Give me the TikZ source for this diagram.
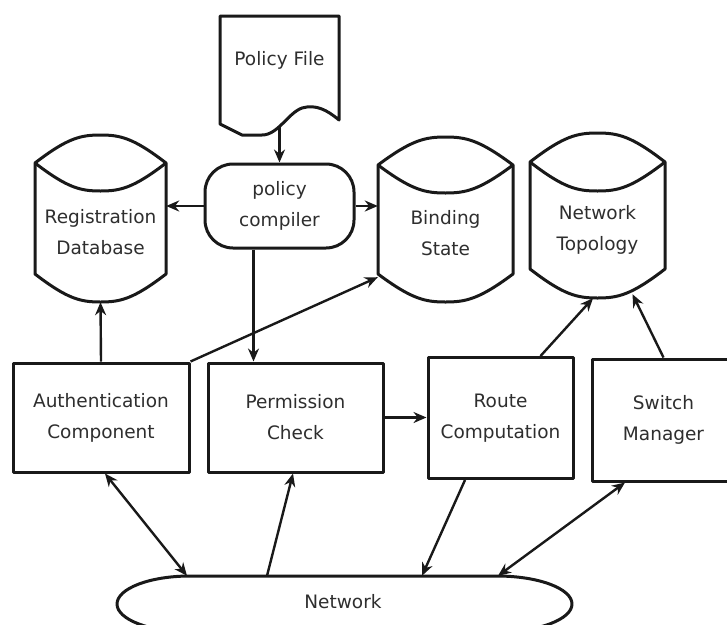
\documentclass[tikz,border=0pt]{standalone}
\usepackage{fontspec}
\setmainfont{DejaVu Sans}
\usetikzlibrary{arrows.meta}

% Database drum: left, top, width, height, cap depth
\newcommand\dbdrum[5]{%
  \begin{scope}[shift={(#1,#2)}]
    \pgfmathsetmacro\dbw{#3}\pgfmathsetmacro\dbh{#4}\pgfmathsetmacro\dbd{#5}
    \draw[outline] (0,\dbd)
      .. controls (0.25*\dbw,0.1*\dbd) and (0.35*\dbw,0) .. (0.5*\dbw,0)
      .. controls (0.65*\dbw,0) and (0.75*\dbw,0.1*\dbd) .. (\dbw,\dbd)
      -- (\dbw,\dbh-\dbd)
      .. controls (0.75*\dbw,\dbh-0.1*\dbd) and (0.65*\dbw,\dbh) .. (0.5*\dbw,\dbh)
      .. controls (0.35*\dbw,\dbh) and (0.25*\dbw,\dbh-0.1*\dbd) .. (0,\dbh-\dbd)
      -- cycle;
    \draw[outline] (0,\dbd)
      .. controls (0.25*\dbw,1.9*\dbd) and (0.35*\dbw,2*\dbd) .. (0.5*\dbw,2*\dbd)
      .. controls (0.65*\dbw,2*\dbd) and (0.75*\dbw,1.9*\dbd) .. (\dbw,\dbd);
  \end{scope}}

\begin{document}
\begin{tikzpicture}[x=1pt,y=-1pt,
  outline/.style={draw=black!90, line width=3pt, line join=round},
  txt/.style={font=\fontsize{18.5}{31}\selectfont, text=black!82, align=center, inner sep=0pt},
  procbox/.style={outline, txt, rectangle},
  holder/.style={txt, rectangle},
  tip/.style={},
  link/.style={draw=black!90, line width=2.4pt, -{Stealth[length=13pt,width=11pt]}},
  dlink/.style={draw=black!90, line width=2.4pt, {Stealth[length=13pt,width=11pt]}-{Stealth[length=13pt,width=11pt]}},
]
\fill[white] (0,0) rectangle (727,624);
\useasboundingbox (0,0) rectangle (727,624);

% policy file (document shape)
\draw[outline] (220,16) -- (339,16) -- (339,120)
  .. controls (327,110) and (316,104) .. (302,108)
  .. controls (288,113) and (278,135) .. (262,135)
  -- (242,135) -- (220,124) -- cycle;
\node[holder] (pf) at (279.5,60) {Policy File};
\coordinate (pfb) at (279.5,126);

% policy compiler
\node[procbox, rounded corners=28pt, minimum width=149pt, minimum height=84pt] (pc) at (279.5,206) {policy\\compiler};

% data stores
\dbdrum{35}{135}{131}{167}{28}
\node[holder, minimum width=131pt, minimum height=140pt] (rd) at (100.5,232) {Registration\\Database};
\dbdrum{378}{137}{135}{165}{28}
\node[holder, minimum width=135pt, minimum height=137pt] (bs) at (445.5,233.5) {Binding\\State};
\dbdrum{530}{133}{135}{165}{29}
\node[holder, minimum width=135pt, minimum height=136pt] (nt) at (597.5,230) {Network\\Topology};

% processing components
\node[procbox, minimum width=176pt, minimum height=109pt] (auth) at (101,417.5) {Authentication\\Component};
\node[procbox, minimum width=175pt, minimum height=109pt] (pm) at (295.5,417.5) {Permission\\Check};
\node[procbox, minimum width=145pt, minimum height=121pt] (rc) at (500.5,418) {Route\\Computation};
\node[procbox, minimum width=143pt, minimum height=122pt] (sm) at (663.5,420) {Switch\\Manager};

% network
\draw[outline] (190,576) -- (497,576)
  arc[start angle=-90, end angle=90, x radius=75, y radius=28]
  -- (190,632)
  arc[start angle=90, end angle=270, x radius=73, y radius=28];
\node[holder, minimum width=455pt, minimum height=56pt] (net) at (344.5,604) {};
\node[holder] (netlabel) at (343,602) {Network};

% connectors
\draw[link] (pfb) -- (pc.north);
\draw[link] (pc.west) -- (rd.east |- pc.west);
\draw[link] (pc.east) -- (bs.west |- pc.east);
\draw[link] ([xshift=-26pt]pc.south) -- ([xshift=-26pt]pc.south |- pm.north);
\draw[link] (auth.north) -- (rd.south);
\draw[link] (auth.north east) -- ([yshift=25pt]bs.south west);
\draw[link] (pm.east) -- (rc.west |- pm.east);
\draw[link] ([xshift=40pt]rc.north) -- ([xshift=-4.5pt]nt.south);
\draw[link] (sm.north) -- ([xshift=35pt,yshift=4pt]nt.south);
\draw[dlink] ([xshift=4pt]auth.south) -- ([xshift=-157.5pt]net.north);
\draw[link] ([xshift=-77.5pt]net.north) -- ([xshift=-2.5pt]pm.south);
\draw[link] ([xshift=-35.5pt]rc.south) -- ([xshift=77.5pt]net.north);
\draw[dlink] ([xshift=-38.5pt]sm.south) -- ([xshift=153.5pt]net.north);
\end{tikzpicture}
\end{document}
